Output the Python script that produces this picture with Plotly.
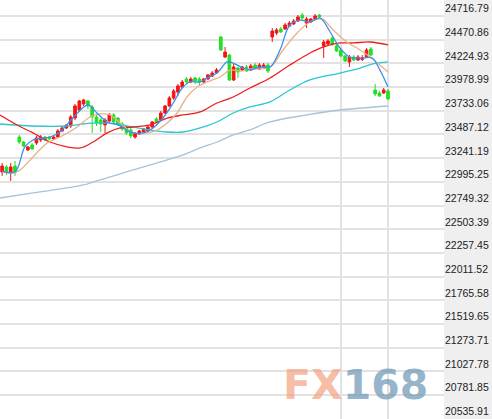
import plotly.graph_objects as go

# candle data (index, open, high, low, close)
idx = list(range(91))
opens = [23098, 23150, 23088, 23160, 23461, 23409, 23326, 23378, 23399, 23430,
         23461, 23461, 23441, 23461, 23524, 23555, 23575, 23658, 23741, 23804,
         23835, 23773, 23669, 23638, 23586, 23627, 23690, 23658, 23596, 23555,
         23534, 23461, 23492, 23513, 23524, 23565, 23648, 23638, 23710, 23783,
         23866, 23928, 23980, 24063, 24032, 24074, 24063, 24032, 24063, 24094,
         24125, 24499, 24291, 24312, 24053, 24177, 24157, 24188, 24157, 24208,
         24167, 24188, 24208, 24499, 24541, 24582, 24582, 24613, 24634, 24665,
         24727, 24644, 24655, 24686, 24727, 24406, 24426, 24489, 24406, 24364,
         24302, 24240, 24291, 24260, 24265, 24291, 24375, 23949, 23918, 23918,
         23939]
highs = [23192, 23171, 23192, 23212, 23482, 23420, 23368, 23399, 23472, 23482,
         23472, 23472, 23482, 23544, 23575, 23596, 23690, 23804, 23845, 23856,
         23845, 23793, 23690, 23658, 23658, 23710, 23710, 23669, 23617, 23575,
         23555, 23513, 23534, 23555, 23586, 23627, 23669, 23731, 23793, 23887,
         23959, 24011, 24053, 24084, 24084, 24084, 24084, 24074, 24115, 24146,
         24177, 24509, 24395, 24323, 24219, 24188, 24198, 24208, 24219, 24229,
         24229, 24229, 24229, 24592, 24592, 24603, 24644, 24665, 24686, 24727,
         24748, 24707, 24696, 24738, 24738, 24468, 24478, 24509, 24426, 24385,
         24312, 24312, 24312, 24312, 24312, 24385, 24395, 24011, 23939, 23970,
         23959]
lows = [23057, 23067, 23005, 23057, 23389, 23358, 23316, 23326, 23378, 23409,
        23420, 23430, 23430, 23451, 23513, 23544, 23555, 23638, 23721, 23783,
        23752, 23503, 23575, 23513, 23503, 23617, 23596, 23575, 23524, 23482,
        23451, 23441, 23482, 23503, 23513, 23555, 23607, 23627, 23700, 23773,
        23845, 23887, 23970, 24011, 24022, 24011, 23991, 24022, 24053, 24084,
        24115, 24354, 24281, 24042, 24042, 24074, 24146, 24136, 24146, 24167,
        24157, 24177, 24125, 24447, 24520, 24541, 24572, 24603, 24624, 24655,
        24686, 24592, 24644, 24675, 24696, 24281, 24416, 24406, 24343, 24291,
        24240, 24188, 24250, 24250, 24250, 24281, 24302, 23887, 23876, 23908,
        23845]
closes = [23160, 23098, 23150, 23098, 23409, 23368, 23358, 23337, 23451, 23461,
          23430, 23441, 23461, 23524, 23555, 23586, 23669, 23783, 23835, 23845,
          23783, 23669, 23607, 23596, 23638, 23690, 23617, 23596, 23544, 23503,
          23472, 23503, 23524, 23544, 23565, 23617, 23617, 23710, 23783, 23866,
          23939, 23991, 24032, 24032, 24063, 24042, 24032, 24063, 24105, 24125,
          24157, 24364, 24343, 24053, 24188, 24136, 24188, 24146, 24198, 24177,
          24208, 24208, 24146, 24561, 24572, 24551, 24624, 24644, 24665, 24707,
          24696, 24686, 24686, 24717, 24707, 24447, 24458, 24426, 24354, 24302,
          24250, 24291, 24260, 24291, 24286, 24364, 24312, 23908, 23887, 23949,
          23856]

# moving averages (index, value)
ma5_x = [0, 3, 5.3, 7.2, 11.2, 13.5, 16.5, 20, 22.1, 24.5, 27, 30.5, 32.9, 35.2,
         37.5, 39.9, 42, 43.8, 46.2, 47.8, 50.1, 52.5, 53.9, 56.2, 57.8, 60.2,
         62.5, 64.8, 67.1, 69.5, 71.8, 74.2, 76.5, 78.8, 81.1, 84.2, 86.3, 88.1, 90]
ma5_y = [23108, 23098, 23358, 23430, 23461, 23513, 23658, 23793, 23710, 23617,
         23586, 23503, 23503, 23555, 23658, 23814, 23970, 24032, 24032, 24074,
         24125, 24240, 24229, 24177, 24157, 24188, 24188, 24364, 24624, 24675,
         24655, 24696, 24551, 24385, 24291, 24281, 24281, 24157, 23980]
ma10_x = [0, 2.5, 4.2, 7.2, 10.5, 13.5, 17.5, 20.5, 22.8, 25.2, 27.5, 30.5, 33.8,
          36.1, 38.5, 40.8, 43.1, 45.5, 47.8, 50.8, 53.2, 55.5, 57.8, 62.5, 65.5,
          68.8, 71.8, 74.6, 77.2, 80.4, 83.5, 85.8, 88.1, 90]
ma10_y = [23098, 23088, 23119, 23254, 23399, 23461, 23565, 23669, 23700, 23690,
          23607, 23503, 23503, 23534, 23607, 23710, 23876, 23980, 24032, 24084,
          24157, 24146, 24167, 24188, 24364, 24541, 24655, 24686, 24572, 24447,
          24364, 24291, 24208, 24136]
ma20_x = [-0.5, 3.5, 7.2, 11.2, 15.1, 18.2, 21.2, 24.5, 27.5, 30.5, 34.5, 38.5,
          42.2, 46.2, 50.1, 53.9, 57.8, 62.5, 67.1, 71.8, 74.8, 78.8, 81.8, 85.8, 90]
ma20_y = [23690, 23586, 23503, 23409, 23358, 23347, 23409, 23503, 23555, 23565,
          23586, 23658, 23690, 23721, 23814, 23876, 23970, 24074, 24208, 24333,
          24395, 24437, 24437, 24447, 24416]
ma60_x = [-0.5, 7.2, 15.1, 18.9, 22.8, 26.8, 30.5, 34.5, 38.5, 42.2, 46.2, 50.1,
          53.9, 57.8, 62.5, 67.1, 71.8, 78.8, 83.5, 86.5, 90]
ma60_y = [23596, 23575, 23575, 23596, 23607, 23596, 23565, 23534, 23513, 23513,
          23555, 23617, 23710, 23773, 23825, 23949, 24053, 24125, 24177, 24219, 24240]
ma120_x = [-0.5, 7.2, 15.1, 18.9, 22.8, 26.8, 30.5, 34.5, 38.5, 42.2, 46.2, 50.1,
           53.9, 57.8, 62.5, 71.1, 78.8, 90]
ma120_y = [22828, 22880, 22932, 22963, 23015, 23067, 23119, 23171, 23223, 23275,
           23347, 23409, 23482, 23534, 23617, 23690, 23741, 23783]

tick_vals = [24716.79, 24470.86, 24224.93, 23978.99, 23733.06, 23487.12, 23241.19,
             22995.25, 22749.32, 22503.39, 22257.45, 22011.52, 21765.58, 21519.65,
             21273.71, 21027.78, 20781.85, 20535.91]
day_marks = [79, 90]

fig = go.Figure()
ma_lines = [
    (ma120_x, ma120_y, "#a4c4dc"),
    (ma60_x, ma60_y, "#2ac6d2"),
    (ma20_x, ma20_y, "#ee1d1d"),
    (ma10_x, ma10_y, "#e9b08a"),
    (ma5_x, ma5_y, "#3b8ff0"),
]
fig.add_trace(go.Candlestick(
    x=idx, open=opens, high=highs, low=lows, close=closes,
    increasing=dict(line=dict(color="#f41414", width=1), fillcolor="#f41414"),
    decreasing=dict(line=dict(color="#22e022", width=1), fillcolor="#22e022"),
    whiskerwidth=0, showlegend=False,
))
for xs, ys, col in ma_lines:
    fig.add_trace(go.Scatter(x=xs, y=ys, mode="lines", line=dict(color=col, width=1.3, shape="spline"),
                             showlegend=False, hoverinfo="skip"))

# grey strip behind the price labels
fig.add_shape(type="rect", xref="paper", yref="paper", x0=1, x1=1.2, y0=0, y1=1,
              fillcolor="#efefef", line=dict(width=0), layer="below")
fig.add_annotation(
    xref="paper", yref="paper", x=0.632, y=0.018, xanchor="left", yanchor="bottom",
    text="<b><span style='color:rgba(242,160,128,0.7)'>FX</span><span style='color:rgba(110,152,182,0.72)'>168</span></b>",
    showarrow=False, font=dict(family="DejaVu Sans", size=41),
)
fig.update_layout(
    width=492, height=419,
    margin=dict(l=0, r=48, t=0, b=0),
    paper_bgcolor="white", plot_bgcolor="white",
    boxgap=0.12,
    font=dict(family="Liberation Sans", size=10.5, color="#222222"),
    xaxis=dict(range=[-0.5, 103.06], tickvals=day_marks, showticklabels=False, showgrid=True,
               gridcolor="#e2e2e2", gridwidth=1.5, zeroline=False, rangeslider=dict(visible=False),
               fixedrange=True),
    yaxis=dict(side="right", range=[20534, 24883], tickvals=tick_vals,
               ticktext=[f"{v:.2f}" for v in tick_vals], ticklabelposition="outside top",
               showgrid=True, gridcolor="#e2e2e2", gridwidth=1.5, zeroline=False, ticks=""),
)
fig.write_html("out.html", config={"displayModeBar": False},
               post_script="document.body.style.margin='0px';")
